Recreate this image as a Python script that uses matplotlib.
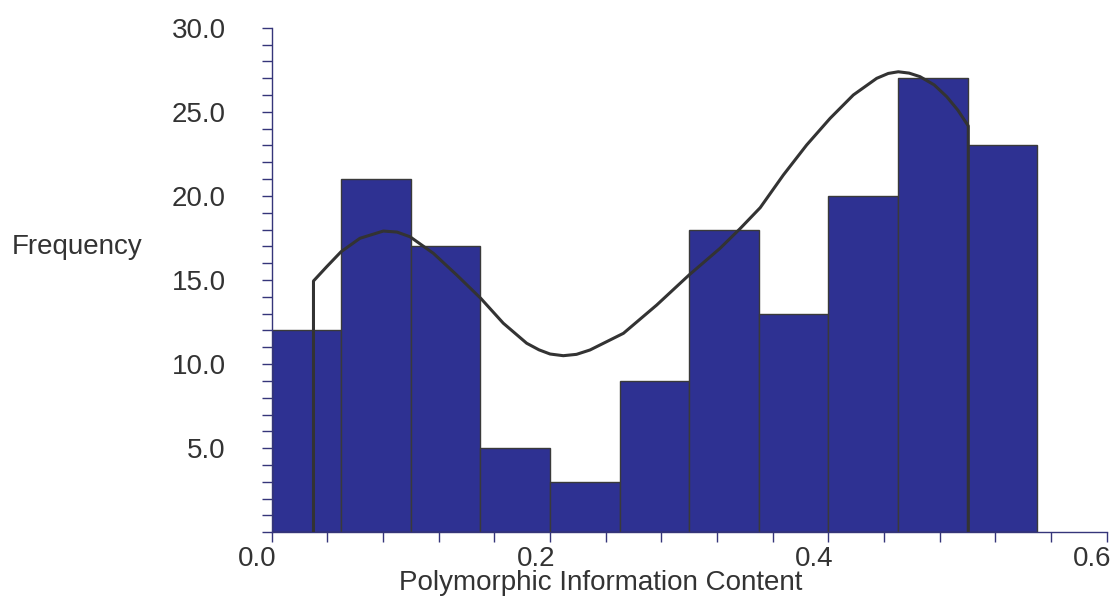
import matplotlib.pyplot as plt
from matplotlib.ticker import MultipleLocator, FixedLocator
from matplotlib.transforms import ScaledTranslation

plt.rcParams['font.family'] = ['Liberation Sans', 'DejaVu Sans']

# histogram bins (left edges) and counts
bin_left = [0.00, 0.05, 0.10, 0.15, 0.20, 0.25, 0.30, 0.35, 0.40, 0.45, 0.50]
bin_width = 0.05
counts = [12, 21, 17, 5, 3, 9, 18, 13, 20, 27, 23]

# fitted curve
curve_x = [0.030, 0.030, 0.0395, 0.0498, 0.0634, 0.0802, 0.090, 0.0994, 0.1161, 0.1329,
           0.1502, 0.1664, 0.1832, 0.192, 0.200, 0.2095, 0.219, 0.2287, 0.2527, 0.2766,
           0.2999, 0.3221, 0.3365, 0.351, 0.3676, 0.3844, 0.4012, 0.4179, 0.4347,
           0.443, 0.4502, 0.458, 0.4658, 0.476, 0.485, 0.493, 0.5005, 0.5005]
curve_y = [0.0, 14.94, 15.79, 16.68, 17.48, 17.91, 17.85, 17.57, 16.59, 15.30,
           13.91, 12.43, 11.24, 10.85, 10.60, 10.50, 10.58, 10.84, 11.83, 13.51,
           15.30, 16.88, 18.05, 19.3, 21.24, 23.03, 24.61, 26.0, 26.99,
           27.28, 27.38, 27.30, 27.09, 26.6, 25.90, 25.1, 24.16, 0.0]

text_col = '#333333'
axis_col = '#35357a'

fig = plt.figure(figsize=(11.15, 6.06), dpi=100)
ax = fig.add_axes([0.2437, 0.1216, 0.7489, 0.8327])

ax.bar(bin_left, counts, width=bin_width, align='edge', color='#2e3192',
       edgecolor='#3a3a3a', linewidth=1.0, zorder=2)
ax.plot(curve_x, curve_y, color='#333333', linewidth=2.2, zorder=3,
        solid_joinstyle='round')

ax.set_xlim(0, 0.6)
ax.set_ylim(0, 30)

ax.xaxis.set_major_locator(FixedLocator([0.0, 0.2, 0.4, 0.6]))
ax.xaxis.set_minor_locator(MultipleLocator(0.04))
ax.yaxis.set_major_locator(FixedLocator([5, 10, 15, 20, 25, 30]))
ax.yaxis.set_minor_locator(MultipleLocator(1))
ax.set_xticklabels(['0.0', '0.2', '0.4', '0.6'])
ax.set_yticklabels(['5.0', '10.0', '15.0', '20.0', '25.0', '30.0'])

for s in ['top', 'right']:
    ax.spines[s].set_visible(False)
for s in ['left', 'bottom']:
    ax.spines[s].set_color(axis_col)
    ax.spines[s].set_linewidth(1.0)

ax.tick_params(axis='both', which='both', direction='out', length=7,
               width=1.0, color=axis_col, labelcolor=text_col, labelsize=20)
ax.tick_params(axis='y', which='both', pad=26)
ax.tick_params(axis='x', which='both', pad=3)

# x tick labels sit right-aligned just past their tick
shift = ScaledTranslation(0.05, 0, fig.dpi_scale_trans)
for lab in ax.get_xticklabels():
    lab.set_horizontalalignment('right')
    lab.set_transform(lab.get_transform() + shift)

ax.set_xlabel('Polymorphic Information Content', fontsize=20, color=text_col)
ax.set_ylabel('Frequency', fontsize=20, color=text_col, rotation=0,
              ha='center', va='center')
ax.xaxis.set_label_coords(0.394, -0.074)
ax.yaxis.set_label_coords(-0.233, 0.565)

fig.savefig('out.png', dpi=100)
